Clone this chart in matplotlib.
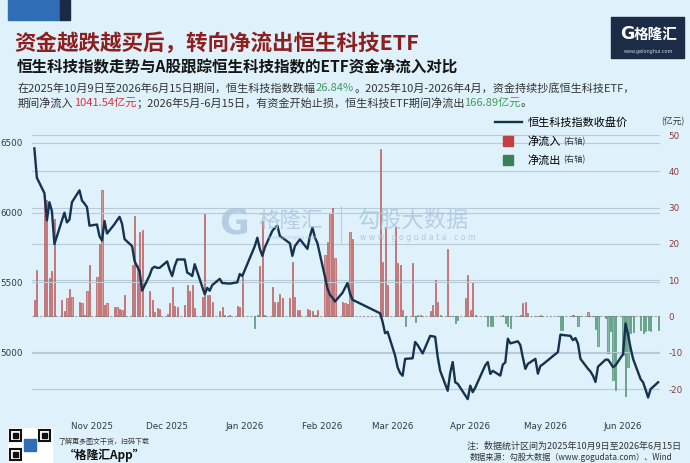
import matplotlib
matplotlib.use('Agg')
import matplotlib.pyplot as plt
import matplotlib.dates as mdates
from matplotlib.lines import Line2D
from matplotlib.patches import Rectangle
import pandas as pd

plt.rcParams['font.family'] = ['Noto Sans CJK SC', 'DejaVu Sans']
plt.rcParams['axes.unicode_minus'] = False

# ── Datos ─────────────────────────────────────────────────────────────────────

# A-share trading calendar for the period
HOLIDAYS = ['2026-01-01', '2026-01-02',
            '2026-02-16', '2026-02-17', '2026-02-18', '2026-02-19', '2026-02-20', '2026-02-23',
            '2026-04-06', '2026-05-01', '2026-05-04', '2026-05-05']
dates = pd.bdate_range('2025-10-09', '2026-06-15', freq='C', holidays=HOLIDAYS)

# 恒生科技指数收盘价 (month by month)
idx_oct = [6461, 6250, 6140, 5945, 6075, 6010, 5775, 5945, 6000, 5930, 5950, 6075, 6160, 6087, 6065, 6040, 5906]
idx_nov = [5915, 5830, 5800, 5940, 5850, 5918, 5945, 5970, 5920, 5810, 5760, 5652, 5615, 5580, 5440, 5550, 5600,
           5612, 5604, 5604]
idx_dec = [5650, 5590, 5545, 5615, 5664, 5664, 5570, 5560, 5545, 5630, 5470, 5415, 5460, 5440, 5480, 5525, 5495,
           5494, 5492, 5491, 5500, 5560, 5545]
idx_jan = [5760, 5820, 5740, 5690, 5750, 5870, 5890, 5906, 5833, 5820, 5780, 5690, 5760, 5785, 5809, 5740, 5830,
           5893, 5822, 5780]
idx_feb = [5540, 5455, 5410, 5390, 5362, 5425, 5460, 5495, 5420, 5375, 5278, 5217, 5135, 5145]
idx_mar = [4975, 4890, 4850, 4830, 4951, 4955, 5072, 5050, 5020, 4990, 5116, 5113, 5109, 4965, 4865, 4722, 4850,
           4928, 4783, 4772, 4690, 4662]
idx_apr = [4759, 4712, 4745, 4905, 4928, 4843, 4865, 4831, 4910, 4925, 5096, 5062, 5077, 5050, 4960, 4879, 4915,
           4951, 4845, 4900, 4912]
idx_may = [5000, 5125, 5122, 5116, 5085, 5100, 5060, 4951, 4880, 4860, 4830, 4785, 4895, 4945, 4945, 4920, 4891,
           4905]
idx_jun = [4985, 5205, 5125, 5030, 4951, 4806, 4783, 4730, 4674, 4734, 4783]

# ETF 资金净流入 (亿元)
flow_oct = [4.6, 12.8, 33.4, 32.0, 10.5, 12.4, 27.0, 4.6, 1.4, 5.0, 7.7, 5.5, 4.1, 3.7, 0.4, 6.9, 14.2]
flow_nov = [10.8, 20.1, 34.8, 3.2, 3.7, 2.7, 2.7, 2.1, 1.8, 6.0, 14.2, 27.6, 14.2, 23.3, 23.9, 6.9, 4.6, 1.1,
            2.3, 2.0]
flow_dec = [0.8, 3.7, 8.2, 2.9, 2.6, 3.2, 8.7, 6.9, 8.7, 2.3, 5.5, 28.4, 6.0, 6.0, 4.0, 1.6, 2.7, 0.3, 0.2, 0.3,
            2.9, 2.7, 11.0]
flow_jan = [-3.2, 0.3, 13.8, 26.2, 0.5, 8.0, 4.1, 4.1, 6.3, 5.0, 5.0, 15.1, 5.5, 1.8, 1.8, 2.1, 1.8, 1.4, 0.5, 1.8]
flow_feb = [16.9, 20.5, 28.6, 29.8, 16.0, 4.1, 3.7, 3.3, 23.2, 21.4, 46.2, 15.1, 24.6, 8.7]
flow_mar = [24.6, 14.7, 14.2, 1.8, -2.7, 14.7, -1.4, 0.5, 0.3, 0.2, 1.4, 3.2, 10.1, 4.1, 0.3, 18.6, 0.2, 0.2,
            -1.8, -0.9, 5.0, 11.4]
flow_apr = [1.8, 9.6, 0.3, 0.2, -2.7, -2.7, -2.7, 0.2, 0.3, -1.8, -2.7, -3.2, 0.2, 0.3, 3.7, 4.1, 0.9, 0.2, 0.2,
            0.3, 0.2]
flow_may = [0.2, -3.7, -3.7, 0.2, 0.3, 0.2, -2.7, 0.2, 1.1, 0.2, 0.1, -3.4, -8.2, -0.5, -10.0, -4.0, -17.5, -20.2]
flow_jun = [-10.5, -21.8, -14.0, -4.6, -4.2, -3.7, -4.6, -4.1, -3.7, -4.0, -3.7]

index_close = idx_oct + idx_nov + idx_dec + idx_jan + idx_feb + idx_mar + idx_apr + idx_may + idx_jun
net_flow = flow_oct + flow_nov + flow_dec + flow_jan + flow_feb + flow_mar + flow_apr + flow_may + flow_jun

month_ticks = ['2025-11-01', '2025-12-01', '2026-01-01', '2026-02-01', '2026-03-01',
               '2026-04-01', '2026-05-01', '2026-06-01']
month_labels = ['Nov 2025', 'Dec 2025', 'Jan 2026', 'Feb 2026', 'Mar 2026',
                'Apr 2026', 'May 2026', 'Jun 2026']
left_ticks = [5000, 5500, 6000, 6500]
right_ticks = [-20, -10, 0, 10, 20, 30, 40, 50]

# ── Estilo ────────────────────────────────────────────────────────────────────

W, H = 690, 463
BG = '#dff1fb'
GRID = '#b7ccd8'
C_LINE = '#15324f'
C_IN, C_IN_EDGE = '#dc9a9a', '#b85a5a'
C_OUT, C_OUT_EDGE = '#86bba3', '#4f8f72'
C_TITLE = '#8e1f1f'
C_TXT = '#333333'
C_HI_RED = '#d0393b'
C_HI_GREEN = '#3f9b5e'


def fx(x):
    return x / W


def fy(y):
    return 1 - y / H


fig = plt.figure(figsize=(W / 100, H / 100), dpi=100, facecolor=BG)
renderer = fig.canvas.get_renderer()

# ── Cabecera ──────────────────────────────────────────────────────────────────

fig.patches.append(Rectangle((fx(8), fy(20)), fx(52), 20 / H, transform=fig.transFigure,
                             color='#2f6db5', zorder=0))
fig.patches.append(Rectangle((fx(60), fy(20)), fx(10), 20 / H, transform=fig.transFigure,
                             color='#1b2a44', zorder=0))

fig.text(fx(14), fy(43), '资金越跌越买后，转向净流出恒生科技ETF', fontsize=15.5,
         fontweight='bold', color=C_TITLE, va='center')
fig.text(fx(17), fy(67), '恒生科技指数走势与A股跟踪恒生科技指数的ETF资金净流入对比', fontsize=11.2,
         fontweight='bold', color='#151515', va='center')


def rich_line(x, y, parts, size=8):
    for s, c in parts:
        t = fig.text(fx(x), fy(y), s, fontsize=size, color=c, va='center', ha='left')
        x += t.get_window_extent(renderer).width


rich_line(18, 88, [('在2025年10月9日至2026年6月15日期间，恒生科技指数跌幅', C_TXT),
                   ('26.84%', C_HI_GREEN),
                   ('。2025年10月-2026年4月，资金持续抄底恒生科技ETF，', C_TXT)])
rich_line(18, 103, [('期间净流入', C_TXT), ('1041.54亿元', C_HI_RED),
                    ('；2026年5月-6月15日，有资金开始止损，恒生科技ETF期间净流出', C_TXT),
                    ('166.89亿元', C_HI_GREEN), ('。', C_TXT)])

# logo arriba a la derecha
fig.patches.append(Rectangle((fx(611), fy(58)), 73 / W, 41 / H, transform=fig.transFigure,
                             color='#1c2c46', zorder=0))
fig.text(fx(620), fy(34), 'G', fontsize=12.5, fontweight='bold', color='white', va='center',
         family='DejaVu Sans')
fig.text(fx(634), fy(34), '格隆汇', fontsize=10.5, fontweight='bold', color='white', va='center')
fig.text(fx(648), fy(51), 'www.gelonghui.com', fontsize=3.5, color='#c8d4e4', va='center', ha='center',
         family='DejaVu Sans')

# ── Gráfico ───────────────────────────────────────────────────────────────────

ax = fig.add_axes([fx(32), fy(405), (660 - 32) / W, (405 - 118) / H])
ax2 = ax.twinx()
ax.set_zorder(ax2.get_zorder() + 1)
ax.patch.set_visible(False)
ax2.patch.set_visible(False)

for v in left_ticks:
    ax.axhline(v, color=GRID, lw=0.8, zorder=0)
for v in right_ticks:
    if v != 0:
        ax2.axhline(v, color=GRID, lw=0.8, zorder=0)
ax2.axhline(0, color='#9a9fa6', lw=0.8, ls=(0, (2, 1.5)), zorder=1)

pos = [v if v > 0 else 0 for v in net_flow]
neg = [v if v < 0 else 0 for v in net_flow]
ax2.bar(dates, pos, width=0.45, color=C_IN, edgecolor=C_IN_EDGE, linewidth=0.5, zorder=2)
ax2.bar(dates, neg, width=0.45, color=C_OUT, edgecolor=C_OUT_EDGE, linewidth=0.5, zorder=2)

ax.plot(dates, index_close, color=C_LINE, lw=1.7, zorder=4)

nov1 = mdates.date2num(pd.Timestamp('2025-11-01'))
ax.set_xlim(nov1 - 23.95, nov1 + 226.75)
ax.set_ylim(4620, 6679)
ax2.set_ylim(-24.4, 54.7)

ax.set_xticks(mdates.date2num(pd.to_datetime(month_ticks)), month_labels,
              fontfamily='DejaVu Sans', fontsize=6.3, color='#2b3a48')
ax.set_yticks(left_ticks, [str(v) for v in left_ticks],
              fontfamily='DejaVu Sans', fontsize=6.3, color='#2b3a48')
ax2.set_yticks(right_ticks, [str(v) for v in right_ticks],
               fontfamily='DejaVu Sans', fontsize=6.3, color='#8b3a3a')
ax.tick_params(axis='x', length=0, pad=12)
ax.tick_params(axis='y', length=0, pad=7)
ax2.tick_params(axis='y', length=0, pad=6)
for a in (ax, ax2):
    for s in a.spines.values():
        s.set_visible(False)

fig.text(fx(673), fy(122), '(亿元)', fontsize=6.3, color=C_TXT, ha='center', va='center')

# leyenda
handles = [Line2D([], [], color=C_LINE, lw=1.7),
           Line2D([], [], marker='s', ls='', markersize=7.5, color='#c2403f'),
           Line2D([], [], marker='s', ls='', markersize=7.5, color='#3d7f58')]
leg = ax.legend(handles, ['恒生科技指数收盘价', '净流入', '净流出'], loc='upper left',
                bbox_to_anchor=(fx(495), fy(117)), bbox_transform=fig.transFigure,
                frameon=False, fontsize=8, handlelength=2.4, handletextpad=0.55,
                labelspacing=0.72, borderpad=0, borderaxespad=0)
fig.canvas.draw()
for t in leg.get_texts()[1:]:
    bb = t.get_window_extent(renderer)
    fig.text(bb.x1 / W + fx(2), (bb.y0 + bb.y1) / 2 / H, '(右轴)', fontsize=6, color=C_TXT, va='center')

# marca de agua
WM = '#a6c3dc'
fig.text(fx(234), fy(224), 'G', fontsize=26, fontweight='bold', color=WM, alpha=0.75,
         ha='center', va='center', family='DejaVu Sans')
fig.text(fx(258), fy(222), '格隆汇', fontsize=15.5, color=WM, alpha=0.75, va='center')
fig.text(fx(292), fy(238), 'www.gelonghui.com', fontsize=3.5, color=WM, alpha=0.75, ha='center',
         va='center', family='DejaVu Sans')
fig.lines.append(Line2D([fx(341), fx(341)], [fy(206), fy(242)], transform=fig.transFigure,
                        color=WM, lw=0.8, alpha=0.75))
fig.text(fx(357), fy(221), '勾股大数据', fontsize=16, color=WM, alpha=0.75, va='center')
fig.text(fx(360), fy(238), 'w w w . g o g u d a t a . c o m', fontsize=5.6, color=WM, alpha=0.85,
         va='center', family='DejaVu Sans')

# ── Pie ───────────────────────────────────────────────────────────────────────

fig.patches.append(Rectangle((fx(8), fy(462)), 44 / W, 34 / H, transform=fig.transFigure,
                             color='white', zorder=0))
for qx, qy in [(10, 430), (39, 430), (10, 449)]:
    fig.patches.append(Rectangle((fx(qx), fy(qy + 11)), 11 / W, 11 / H, transform=fig.transFigure,
                                 facecolor='white', edgecolor='#111111', lw=1.5, zorder=1))
    fig.patches.append(Rectangle((fx(qx + 3), fy(qy + 8)), 5 / W, 5 / H, transform=fig.transFigure,
                                 color='#111111', zorder=2))
fig.patches.append(Rectangle((fx(24), fy(451)), 12 / W, 12 / H, transform=fig.transFigure,
                             color='#2f6db5', zorder=2))
fig.text(fx(58), fy(442), '了解更多图文干货，扫码下载', fontsize=5, color=C_TXT, style='italic', va='center')
fig.text(fx(64), fy(455), '“格隆汇App”', fontsize=8.5, color='#111111', fontweight='bold',
         style='italic', va='center')
fig.text(fx(467), fy(446), '注：数据统计区间为2025年10月9日至2026年6月15日', fontsize=6.5, color=C_TXT,
         va='center')
fig.text(fx(470), fy(457), '数据来源：勾股大数据（www.gogudata.com）、Wind', fontsize=5.9, color=C_TXT,
         va='center')

fig.savefig('out.png', dpi=100, facecolor=BG)
